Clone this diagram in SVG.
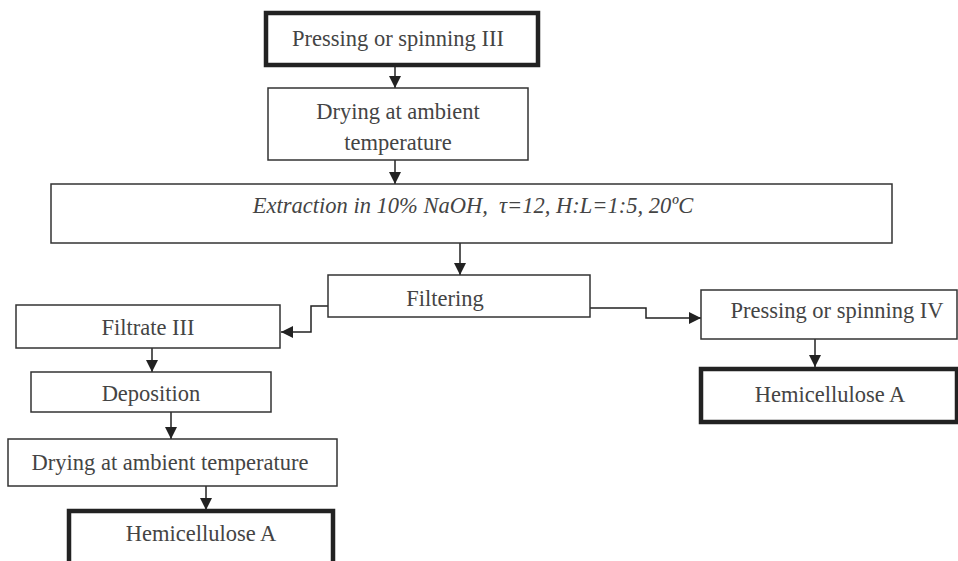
<svg xmlns="http://www.w3.org/2000/svg" width="958" height="561" viewBox="0 0 958 561">
<style>
.box{fill:#fff;stroke:#333;stroke-width:1.5}
.thick{fill:#fff;stroke:#222;stroke-width:4.5}
.t{font-family:"Liberation Serif","Times New Roman",serif;font-size:22.5px;fill:#444;text-anchor:middle;white-space:pre}
.it{font-style:italic}
.c{fill:none;stroke:#222;stroke-width:1.5}
</style>
<defs>
<marker id="ah" viewBox="0 0 12 12" refX="12" refY="6" markerWidth="12" markerHeight="12" markerUnits="userSpaceOnUse" orient="auto">
<path d="M0,0 L12,6 L0,12 Z" fill="#222"/>
</marker>
</defs>
<rect width="958" height="561" fill="#fff"/>
<g id="connectors">
<path class="c" d="M395,65 V88" marker-end="url(#ah)"/>
<path class="c" d="M395,160 V184" marker-end="url(#ah)"/>
<path class="c" d="M460,243 V275" marker-end="url(#ah)"/>
<path class="c" d="M342,306 H311 V332 H281" marker-end="url(#ah)"/>
<path class="c" d="M590,308 H646 V318 H701" marker-end="url(#ah)"/>
<path class="c" d="M152,348 V372" marker-end="url(#ah)"/>
<path class="c" d="M171,412 V439" marker-end="url(#ah)"/>
<path class="c" d="M206,486 V510" marker-end="url(#ah)"/>
<path class="c" d="M815,339 V367" marker-end="url(#ah)"/>
</g>
<g id="n1"><rect class="thick" x="266" y="13" width="272" height="52"/><text class="t" x="398" y="46">Pressing or spinning III</text></g>
<g id="n2"><rect class="box" x="268" y="88" width="260" height="72"/><text class="t" x="398" y="119">Drying at ambient</text><text class="t" x="398" y="150">temperature</text></g>
<g id="n3"><rect class="box" x="51" y="184" width="841" height="59"/><text class="t it" x="473" y="213" xml:space="preserve">Extraction in 10% NaOH,  τ=12, H:L=1:5, 20ºC</text></g>
<g id="n4"><rect class="box" x="328" y="275" width="262" height="42"/><text class="t" x="445" y="306">Filtering</text></g>
<g id="n5"><rect class="box" x="16" y="305" width="264" height="43"/><text class="t" x="148" y="335">Filtrate III</text></g>
<g id="n6"><rect class="box" x="31" y="372" width="240" height="40"/><text class="t" x="151" y="401">Deposition</text></g>
<g id="n7"><rect class="box" x="8" y="439" width="329" height="47"/><text class="t" x="170" y="470">Drying at ambient temperature</text></g>
<g id="n8"><rect class="thick" x="69" y="511" width="264" height="55"/><text class="t" x="201" y="541">Hemicellulose A</text></g>
<g id="n9"><rect class="box" x="701" y="290" width="256" height="49"/><text class="t" x="837" y="318">Pressing or spinning IV</text></g>
<g id="n10"><rect class="thick" x="701" y="369" width="256" height="53"/><text class="t" x="830" y="402">Hemicellulose A</text></g>
</svg>
